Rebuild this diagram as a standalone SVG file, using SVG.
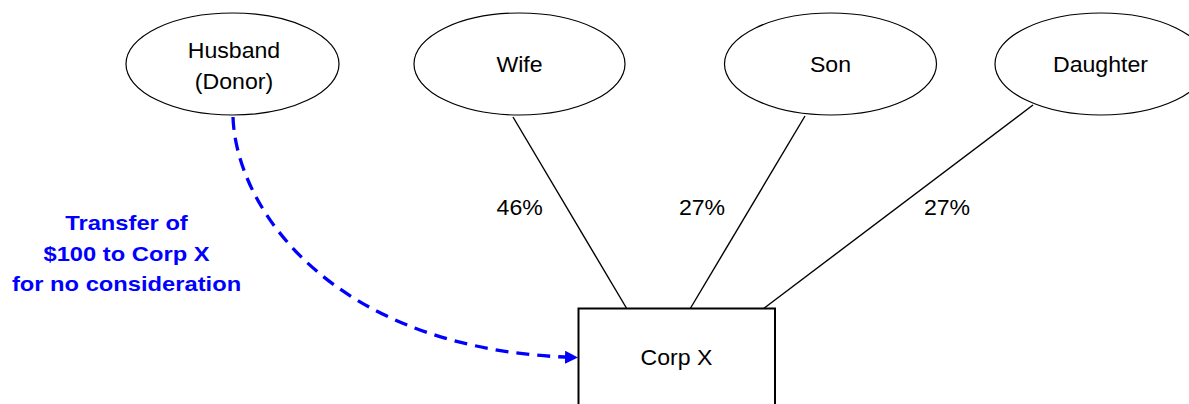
<svg xmlns="http://www.w3.org/2000/svg" width="1189" height="404" viewBox="0 0 1189 404">
  <style>
    .node { fill: #ffffff; stroke: #000000; stroke-width: 1.2; }
    .box { fill: #ffffff; stroke: #000000; stroke-width: 2; }
    .lbl { font-family: "Liberation Sans", Arial, sans-serif; font-size: 22px; fill: #000000; text-anchor: middle; }
    .note { font-family: "Liberation Sans", Arial, sans-serif; font-size: 21px; font-weight: bold; fill: #0000ff; text-anchor: middle; }
    .link { stroke: #000000; stroke-width: 1.4; fill: none; }
    .gift { stroke: #0000ff; stroke-width: 3.3; fill: none; stroke-dasharray: 13 8; }
  </style>
  <defs>
    <marker id="arrow" markerWidth="14" markerHeight="14" refX="13" refY="6.5" orient="auto" markerUnits="userSpaceOnUse">
      <path d="M0,0 L13,6.5 L0,13 Z" fill="#0000ff"/>
    </marker>
  </defs>
  <rect width="1189" height="404" fill="#ffffff"/>

  <g id="connectors">
    <line class="link" x1="513" y1="117" x2="627" y2="309"/>
    <line class="link" x1="805" y1="116" x2="690" y2="309"/>
    <line class="link" x1="1033" y1="105" x2="763" y2="309"/>
    <path class="gift" d="M233,117 C236,210 335,352 578,357.5" marker-end="url(#arrow)"/>
    <text class="lbl" transform="matrix(1.05 0 0 1 519.7 215)">46%</text>
    <text class="lbl" transform="matrix(1.05 0 0 1 702 215)">27%</text>
    <text class="lbl" transform="matrix(1.05 0 0 1 947 215)">27%</text>
    <text class="note" transform="matrix(1.13 0 0 1 126.5 229.5)">Transfer of</text>
    <text class="note" transform="matrix(1.13 0 0 1 126.5 260.5)">$100 to Corp X</text>
    <text class="note" transform="matrix(1.13 0 0 1 126.5 291)">for no consideration</text>
  </g>

  <g id="husband">
    <ellipse class="node" cx="232.5" cy="64" rx="106.5" ry="51"/>
    <text class="lbl" transform="matrix(1.05 0 0 1 234 58.3)">Husband</text>
    <text class="lbl" transform="matrix(1.05 0 0 1 234 89.3)">(Donor)</text>
  </g>
  <g id="wife">
    <ellipse class="node" cx="519.5" cy="64" rx="105.5" ry="51"/>
    <text class="lbl" transform="matrix(1.05 0 0 1 519.5 71.7)">Wife</text>
  </g>
  <g id="son">
    <ellipse class="node" cx="830.5" cy="64" rx="106" ry="51"/>
    <text class="lbl" transform="matrix(1.05 0 0 1 830.5 71.7)">Son</text>
  </g>
  <g id="daughter">
    <ellipse class="node" cx="1101" cy="64" rx="106" ry="51"/>
    <text class="lbl" transform="matrix(1.05 0 0 1 1100.5 71.7)">Daughter</text>
  </g>
  <g id="corpx">
    <rect class="box" x="578.5" y="308.5" width="196.5" height="110"/>
    <text class="lbl" transform="matrix(1.05 0 0 1 676.5 365)">Corp X</text>
  </g>
</svg>
